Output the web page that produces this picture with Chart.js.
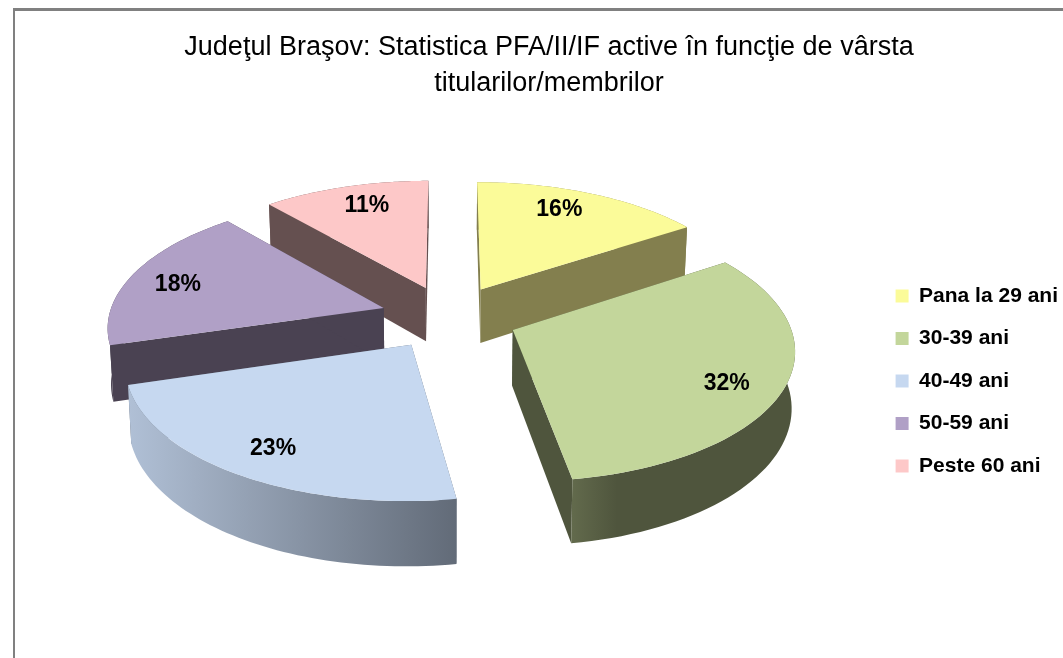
<!DOCTYPE html>
<html lang="ro"><head><meta charset="utf-8">
<style>html,body{margin:0;padding:0;background:#fff;overflow:hidden}canvas{display:block}</style>
<script src="https://cdn.jsdelivr.net/npm/chart.js@4"></script></head>
<body><canvas id="c" width="1063" height="658"></canvas>
<script>
const titleLines = ['Judeţul Braşov: Statistica PFA/II/IF active în funcţie de vârsta', 'titularilor/membrilor'];
const categories = ['Pana la 29 ani', '30-39 ani', '40-49 ani', '50-59 ani', 'Peste 60 ani'];
const percentages = [15.7, 31.8, 22.9, 18.3, 11.3];
const topColors = ['#fbfb99', '#c3d69b', '#c6d8f0', '#b0a0c6', '#fdc8c8'];
const wallLeft = ['#837f4e', '#626a4c', '#b0c0d6', '#4a4252', '#655050'];
const wallMid = ['#837f4e', '#4f553d', '#a1afc3', '#4a4252', '#655050'];
const wallRight = ['#837f4e', '#4f553d', '#626b78', '#4a4252', '#655050'];
const faceColors = ['#837f4e', '#4f553d', '#626b78', '#4a4252', '#655050'];
const paintOrder = [4, 0, 3, 1, 2];
const labelTurnDeg = [-4, 3.7, 0, -1.3, 2.3];

// Tilted-camera view of the pie plane
const view = {cx: 449, cy: 317, a: 275, b: 128, k: 0.13, explode: 0.25, depth: 55, shrink: 0.99, labelAt: 0.81, labelDrop: 2};
function project(u, v) {
  const w = 1 - view.k * v;
  return {x: view.cx + view.a * u / w, y: view.cy + view.b * v / w, w};
}
function under(p) {
  return {x: view.cx + (p.x - view.cx) * view.shrink, y: p.y + view.depth / p.w};
}
function slicePoints(arc, i) {
  const t0 = arc.startAngle + Math.PI / 2, t1 = arc.endAngle + Math.PI / 2, mid = (t0 + t1) / 2;
  const ou = view.explode * Math.sin(mid), ov = -view.explode * Math.cos(mid);
  const rim = [];
  const n = 60;
  for (let j = 0; j <= n; j++) {
    const t = t0 + (t1 - t0) * j / n;
    rim.push(project(ou + Math.sin(t), ov - Math.cos(t)));
  }
  const lt = mid + labelTurnDeg[i] * Math.PI / 180;
  const label = project(ou + view.labelAt * Math.sin(lt), ov - view.labelAt * Math.cos(lt));
  return {apex: project(ou, ov), rim, label};
}
function fillPoly(ctx, pts, style) {
  ctx.beginPath();
  pts.forEach((p, i) => i ? ctx.lineTo(p.x, p.y) : ctx.moveTo(p.x, p.y));
  ctx.closePath();
  ctx.fillStyle = style;
  ctx.fill();
}
const framePlugin = {
  id: 'frame',
  beforeDraw(chart) {
    const ctx = chart.ctx;
    ctx.save();
    ctx.fillStyle = '#fff';
    ctx.fillRect(0, 0, chart.width, chart.height);
    ctx.fillStyle = '#808080';
    ctx.fillRect(13, 8, chart.width - 13, 3);
    ctx.fillRect(13, 8, 2, chart.height - 8);
    ctx.restore();
  }
};
const pie3d = {
  id: 'pie3d',
  beforeDatasetsDraw(chart) {
    const ctx = chart.ctx, arcs = chart.getDatasetMeta(0).data;
    ctx.save();
    paintOrder.forEach(i => {
      const s = slicePoints(arcs[i], i);
      const rimLow = s.rim.map(under), apexLow = under(s.apex);
      const first = s.rim[0], last = s.rim[s.rim.length - 1];
      fillPoly(ctx, [s.apex, first, rimLow[0], apexLow], faceColors[i]);
      fillPoly(ctx, [s.apex, last, rimLow[rimLow.length - 1], apexLow], faceColors[i]);
      const xs = s.rim.map(p => p.x);
      const g = ctx.createLinearGradient(Math.min(...xs), 0, Math.max(...xs), 0);
      g.addColorStop(0, wallLeft[i]);
      g.addColorStop(0.2, wallMid[i]);
      g.addColorStop(1, wallRight[i]);
      fillPoly(ctx, s.rim.concat(rimLow.slice().reverse()), g);
      fillPoly(ctx, [s.apex].concat(s.rim), topColors[i]);
    });
    ctx.fillStyle = '#000';
    ctx.font = 'bold 23px "Liberation Sans", Arial, sans-serif';
    ctx.textAlign = 'center';
    ctx.textBaseline = 'middle';
    arcs.forEach((arc, i) => {
      const s = slicePoints(arc, i);
      ctx.fillText(Math.round(percentages[i]) + '%', s.label.x, s.label.y + view.labelDrop);
    });
    ctx.restore();
    return false;
  }
};
new Chart(document.getElementById('c'), {
  type: 'pie',
  data: {labels: categories, datasets: [{data: percentages, backgroundColor: topColors, borderWidth: 0}]},
  options: {
    responsive: false,
    animation: false,
    layout: {padding: {left: 30, top: 30, right: -5, bottom: -74}},
    plugins: {
      tooltip: {enabled: false},
      title: {display: true, text: titleLines, color: '#000',
        font: {family: '"Liberation Sans", Arial, sans-serif', size: 27, weight: 'normal', lineHeight: 1.33},
        padding: {top: 0, bottom: 10}},
      legend: {position: 'right', labels: {boxWidth: 13, boxHeight: 13, padding: 21.5, color: '#000',
        font: {family: '"Liberation Sans", Arial, sans-serif', size: 21, weight: 'bold'}}}
    }
  },
  plugins: [framePlugin, pie3d]
});
</script></body></html>
